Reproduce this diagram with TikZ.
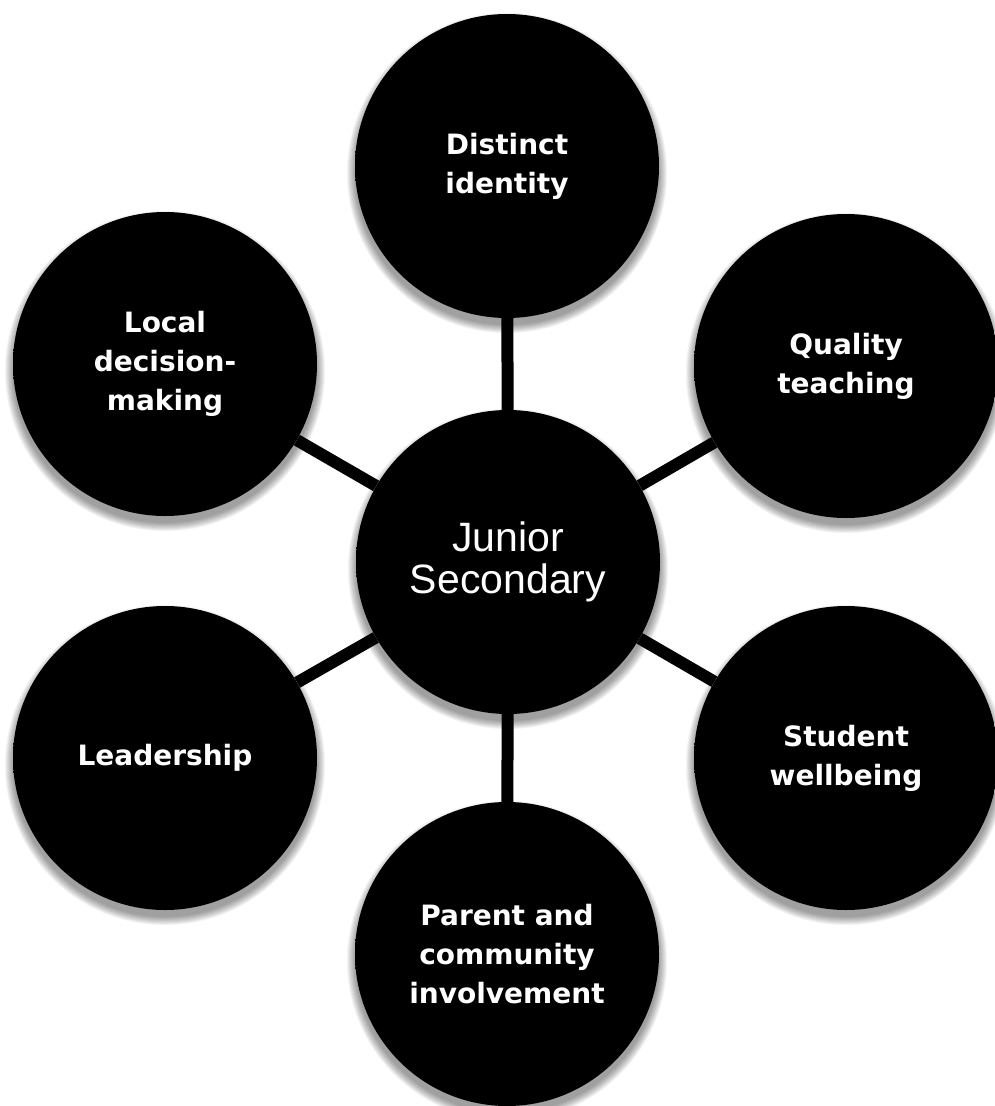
\documentclass[tikz,border=0pt]{standalone}
\usepackage{fontspec}
\setmainfont{DejaVu Sans}
\newfontfamily\centerfont{Liberation Sans}
\usetikzlibrary{backgrounds}
\pgfdeclareradialshading{rim}{\pgfpoint{0bp}{0bp}}{%
  color(0bp)=(black); color(36bp)=(black); color(38.3bp)=(black!68);
  color(40bp)=(black); color(44bp)=(black!86); color(47bp)=(black!72);
  color(49bp)=(black!90); color(50bp)=(black); color(100bp)=(black)}
\tikzset{
  bubble/.style={circle, minimum size=304pt, inner sep=0pt, shading=rim,
    text=white, align=center,
    font=\bfseries\fontsize{28}{39}\selectfont},
  link/.style={line width=12pt, black},
  hub/.style={font=\centerfont\mdseries\fontsize{41}{42}\selectfont}
}
\newcommand\shadowof[1]{%
  \foreach \k in {0,...,9}{
    \fill[black, opacity=0.045] ([yshift=-7pt]#1.center) circle ({152+\k*0.9});
  }}
\begin{document}
\begin{tikzpicture}[x=1pt,y=-1pt]
\useasboundingbox (0,0) rectangle (994,1106);
\node[bubble, hub] (c) at (508,562) {Junior\\Secondary};
\node[bubble] (di) at (507,166) {Distinct\\identity};
\node[bubble] (qt) at (846,366) {Quality\\teaching};
\node[bubble] (sw) at (846,758) {Student\\wellbeing};
\node[bubble] (pc) at (507,954) {Parent and\\community\\involvement};
\node[bubble] (le) at (165,758) {Leadership};
\node[bubble] (ld) at (165,364) {Local\\decision-\\making};
\begin{pgfonlayer}{background}
  \fill[white] (0,0) rectangle (994,1106);
  \shadowof{c}\shadowof{di}\shadowof{qt}\shadowof{sw}\shadowof{pc}\shadowof{le}\shadowof{ld}
  \draw[link] (c) -- (di);
  \draw[link] (c) -- (qt);
  \draw[link] (c) -- (sw);
  \draw[link] (c) -- (pc);
  \draw[link] (c) -- (le);
  \draw[link] (c) -- (ld);
\end{pgfonlayer}
\end{tikzpicture}
\end{document}
